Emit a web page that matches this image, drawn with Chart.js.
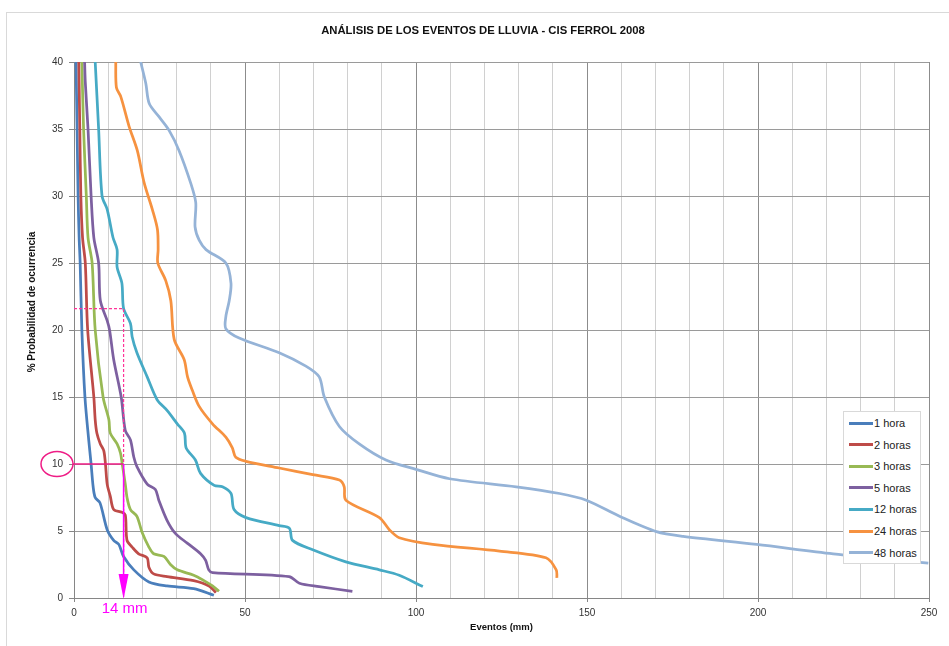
<!DOCTYPE html>
<html lang="es">
<head>
<meta charset="utf-8">
<title>Análisis de los eventos de lluvia - CIS Ferrol 2008</title>
<script src="https://cdn.jsdelivr.net/npm/chart.js@4.4.1/dist/chart.umd.min.js"></script>
<style>
    html, body { margin: 0; padding: 0; background: #fff; }
    #wrap { position: relative; width: 949px; height: 646px; overflow: hidden; }
    #frame { position: absolute; left: 6px; top: 12px; right: -2px; bottom: -2px;
             border-top: 1px solid #d9d9d9; border-left: 1px solid #d9d9d9; }
    #chart { position: absolute; left: 0; top: 0; }
    #title { position: absolute; left: 0; top: 22px; width: 966px; text-align: center;
             font: bold 11.3px "Liberation Sans", Arial, sans-serif; color: #111; line-height: 16px; }
    #ytitle { position: absolute; left: 33px; top: 302px; width: 300px; margin-left: -150px; margin-top: -7px;
              height: 14px; line-height: 14px; text-align: center; transform: rotate(-90deg);
              font: bold 10px "Liberation Sans", Arial, sans-serif; color: #111; white-space: nowrap; }
    #legend { position: absolute; left: 843px; top: 411px; width: 76px; height: 151px;
              background: #fff; border: 1px solid #d9d9d9;
              font: 11px "Liberation Sans", Arial, sans-serif; color: #222; }
    #legend .row { position: absolute; left: 5px; height: 14px; line-height: 14px; white-space: nowrap; }
    #legend .swatch { display: inline-block; width: 24px; height: 3px; vertical-align: middle;
                      margin-right: 1px; position: relative; top: -1px; }
</style>
</head>
<body>
<div id="wrap">
    <div id="frame"></div>
    <canvas id="chart" width="949" height="646"></canvas>
    <div id="title">ANÁLISIS DE LOS EVENTOS DE LLUVIA - CIS FERROL 2008</div>
    <div id="ytitle">% Probabilidad de ocurrencia</div>
    <div id="legend"></div>
</div>
<script>
// Values (x = mm, y = % probability)
const seriesNames = ['1 hora', '2 horas', '3 horas', '5 horas', '12 horas', '24 horas', '48 horas'];
const seriesColors = ['#4a7ebb', '#be4b48', '#98b954', '#7d60a0', '#46aac5', '#f69240', '#95b3d7'];

const h1Mm  = [0.6, 0.9, 1.2, 1.5, 1.8, 2.3, 3.2, 4.3, 5.0, 5.6, 6.2, 7.6, 9.7, 11.6, 13.1, 14.5, 17.5, 21.9, 27.2, 35, 40.9];
const h1Pct = [40, 35, 30, 26.9, 25, 20, 15, 11.8, 10, 8.3, 7.5, 7.1, 5.1, 4.3, 4.0, 3.1, 2.1, 1.2, 0.9, 0.7, 0.2];

const h2Mm  = [1.4, 1.7, 2.0, 2.5, 3.3, 4.0, 5.8, 6.2, 6.7, 7.7, 8.7, 9.2, 9.7, 10.6, 11.6, 14.0, 15.0, 15.5, 17.0, 18.9, 21.4, 21.9, 23.3, 27.2, 35, 39.5, 41.5];
const h2Pct = [40, 35, 30, 26.9, 25, 20, 15, 13.3, 12.3, 11.5, 11.0, 10, 8.5, 7.6, 6.6, 6.4, 6.2, 4.3, 3.8, 3.3, 3.0, 2.3, 1.8, 1.6, 1.3, 0.9, 0.4];

const h3Mm  = [2.3, 2.8, 3.6, 4.1, 5.3, 6.2, 8.5, 10.2, 10.6, 12.6, 13.6, 14.1, 15.0, 15.5, 16.5, 18.4, 19.9, 21.9, 23.3, 26.3, 28.2, 30.2, 35.0, 38.0, 40.5, 42.4];
const h3Pct = [40, 35, 30, 26.9, 25, 20, 15, 13.3, 12.3, 11.5, 10.8, 10, 8.5, 7.5, 6.6, 6.1, 4.9, 3.8, 3.3, 3.1, 2.5, 2.1, 1.7, 1.3, 0.9, 0.5];

const h5Mm  = [3.1, 3.3, 4.1, 5.0, 5.8, 7.2, 7.7, 9.7, 10.4, 11.6, 13.8, 15.0, 16.5, 17.5, 18.4, 21.4, 23.8, 24.8, 27.2, 29.7, 33.1, 37.0, 38.5, 39.4, 40.5, 62.9, 65.9, 71.7, 81.4];
const h5Pct = [40, 38.5, 35, 30, 26.9, 25, 22.2, 20.7, 20, 17.8, 15, 12.5, 11.8, 10.5, 9.8, 8.5, 8.1, 7.3, 5.8, 4.8, 4.1, 3.3, 2.8, 2.1, 1.9, 1.6, 1.1, 0.85, 0.5];

const h12Mm  = [6.2, 7.2, 8.2, 9.7, 11.4, 12.6, 12.6, 14.0, 14.5, 16.5, 17.0, 18.4, 21.4, 24.3, 27.2, 30.2, 32.3, 32.8, 35.5, 37.0, 41.0, 43.4, 45.9, 46.8, 50.3, 60, 63, 63.9, 69.8, 79.5, 89.3, 95.1, 102];
const h12Pct = [40, 35, 30, 29, 26.9, 26.0, 24.7, 23.5, 21.6, 20.5, 19.5, 18.3, 16.5, 14.8, 14.0, 13.0, 12.3, 11.2, 10.3, 9.3, 8.4, 8.3, 7.8, 6.6, 6.0, 5.4, 5.2, 4.3, 3.6, 2.7, 2.1, 1.7, 0.85];

const h24Mm  = [12.2, 12.4, 13.7, 16.1, 18.5, 20.5, 22.9, 24.4, 24.6, 24.5, 26.8, 28.3, 29.3, 32.2, 33.2, 34.6, 36.6, 40.5, 44.4, 46.3, 47.3, 50.3, 60, 69.8, 77.6, 79.0, 79.5, 89.3, 92.2, 95.1, 104.9, 124.4, 138, 141, 141.2];
const h24Pct = [40, 38.1, 37.4, 35.2, 33.4, 31, 29, 27.5, 26, 25, 23.7, 22.2, 19.3, 17.8, 16.5, 15.5, 14.3, 13, 12, 11.2, 10.5, 10.2, 9.7, 9.2, 8.8, 8.3, 7.3, 6.0, 5.1, 4.5, 4.0, 3.5, 3.0, 2.1, 1.5];

const h48Mm  = [19.5, 21, 22, 24.9, 27.8, 30.7, 34.2, 35.6, 35.4, 36.6, 38.6, 44.4, 45.9, 45.4, 44.4, 44.4, 48.3, 60, 67.8, 71.7, 73.2, 77.6, 83.4, 91.2, 100, 109.8, 129.3, 142, 149.8, 159.5, 170.3, 178.1, 199.6, 222, 249.8];
const h48Pct = [40, 38.4, 36.9, 35.9, 34.9, 33.4, 30.9, 29.5, 27.7, 26.7, 26.0, 25, 23.5, 22.2, 21, 20.1, 19.4, 18.3, 17.3, 16.5, 15, 12.8, 11.5, 10.3, 9.6, 8.9, 8.3, 7.8, 7.3, 6.1, 4.95, 4.6, 4.0, 3.3, 2.6];

// Axis ranges and the reading marked on the picture
const xMax = 250, xStep = 10, xLabelStep = 50;
const yMax = 40, yStep = 5;
const markMm = 14.5;     // vertical guide
const markPct = 10;      // 10 % level (circled)
const dashPct = 21.6;    // dashed guide level
const markLabel = '14 mm';

const allMm = [h1Mm, h2Mm, h3Mm, h5Mm, h12Mm, h24Mm, h48Mm];
const allPct = [h1Pct, h2Pct, h3Pct, h5Pct, h12Pct, h24Pct, h48Pct];

document.addEventListener('DOMContentLoaded', function() {
    buildLegend();
    createChart();
});

function toPoints(mm, pct) {
    return mm.map((x, i) => ({ x: x, y: pct[i] }));
}

function buildLegend() {
    const box = document.getElementById('legend');
    let html = '';
    seriesNames.forEach((name, i) => {
        const top = 4 + i * 21.6;
        html += `<div class="row" style="top:${top}px"><span class="swatch" style="background:${seriesColors[i]}"></span>${name}</div>`;
    });
    box.innerHTML = html;
}

// Magenta guides: dashed 21.6 % line, circled 10 % label, arrow down to 14 mm
const markerPlugin = {
    id: 'marker',
    afterDraw(chart) {
        const { ctx, scales: { x, y } } = chart;
        const xPx = x.getPixelForValue(markMm);
        const y10 = y.getPixelForValue(markPct);
        const yDash = y.getPixelForValue(dashPct);
        const y0 = y.getPixelForValue(0);
        ctx.save();

        ctx.strokeStyle = '#ff3399';
        ctx.lineWidth = 1.2;
        ctx.setLineDash([3, 2]);
        ctx.beginPath();
        ctx.moveTo(x.left, yDash);
        ctx.lineTo(xPx, yDash);
        ctx.lineTo(xPx, y0);
        ctx.stroke();
        ctx.setLineDash([]);

        ctx.strokeStyle = '#ee1c85';
        ctx.lineWidth = 1.5;
        ctx.beginPath();
        ctx.ellipse(x.left - 17, y10, 16, 12.5, 0, 0, Math.PI * 2);
        ctx.stroke();
        ctx.beginPath();
        ctx.moveTo(x.left - 1, y10);
        ctx.lineTo(xPx, y10);
        ctx.stroke();

        ctx.strokeStyle = '#ff00ff';
        ctx.fillStyle = '#ff00ff';
        ctx.lineWidth = 1.5;
        ctx.beginPath();
        ctx.moveTo(xPx, y10);
        ctx.lineTo(xPx, y0 - 20);
        ctx.stroke();
        ctx.beginPath();
        ctx.moveTo(xPx - 5, y0 - 24);
        ctx.lineTo(xPx + 5, y0 - 24);
        ctx.lineTo(xPx, y0 + 1);
        ctx.closePath();
        ctx.fill();

        ctx.font = '15px "Liberation Sans", Arial, sans-serif';
        ctx.textAlign = 'center';
        ctx.textBaseline = 'middle';
        ctx.fillText(markLabel, xPx + 1, y0 + 11);
        ctx.restore();
    }
};

function createChart() {
    Chart.defaults.font.family = '"Liberation Sans", Arial, sans-serif';
    Chart.defaults.color = '#333';

    const datasets = seriesNames.map((name, i) => ({
        label: name,
        data: toPoints(allMm[i], allPct[i]),
        borderColor: seriesColors[i],
        backgroundColor: seriesColors[i],
        borderWidth: 2.75,
        showLine: true,
        pointRadius: 0,
        tension: 0.3,
        fill: false,
        order: seriesNames.length - i
    }));

    const ctx = document.getElementById('chart').getContext('2d');
    new Chart(ctx, {
        type: 'scatter',
        data: { datasets: datasets },
        plugins: [markerPlugin],
        options: {
            responsive: false,
            animation: false,
            devicePixelRatio: 1,
            layout: { padding: { left: 0, right: 20, top: 62, bottom: 0 } },
            plugins: {
                legend: { display: false },
                tooltip: { enabled: false },
                title: { display: false }
            },
            scales: {
                x: {
                    type: 'linear',
                    min: 0,
                    max: xMax,
                    afterFit: s => { s.height = 48; },
                    border: { color: '#868686', width: 1 },
                    grid: {
                        color: c => (c.tick && c.tick.value % xLabelStep === 0 ? '#8c8c8c' : '#d0d0d0'),
                        tickColor: c => (c.tick && c.tick.value % xLabelStep === 0 ? '#868686' : 'rgba(0,0,0,0)'),
                        tickLength: 4
                    },
                    ticks: {
                        stepSize: xStep,
                        autoSkip: false,
                        maxRotation: 0,
                        padding: 5,
                        font: { size: 10 },
                        callback: v => (v % xLabelStep === 0 ? v : '')
                    },
                    title: {
                        display: true,
                        text: 'Eventos (mm)',
                        color: '#111',
                        font: { size: 9.5, weight: 'bold' },
                        padding: { top: 0, bottom: 13 }
                    }
                },
                y: {
                    type: 'linear',
                    min: 0,
                    max: yMax,
                    afterFit: s => { s.width = 74; },
                    border: { color: '#868686', width: 1 },
                    grid: {
                        color: '#9a9a9a',
                        tickColor: '#868686',
                        tickLength: 5
                    },
                    ticks: {
                        stepSize: yStep,
                        padding: 6,
                        font: { size: 10 }
                    }
                }
            }
        }
    });
}
</script>
</body>
</html>
